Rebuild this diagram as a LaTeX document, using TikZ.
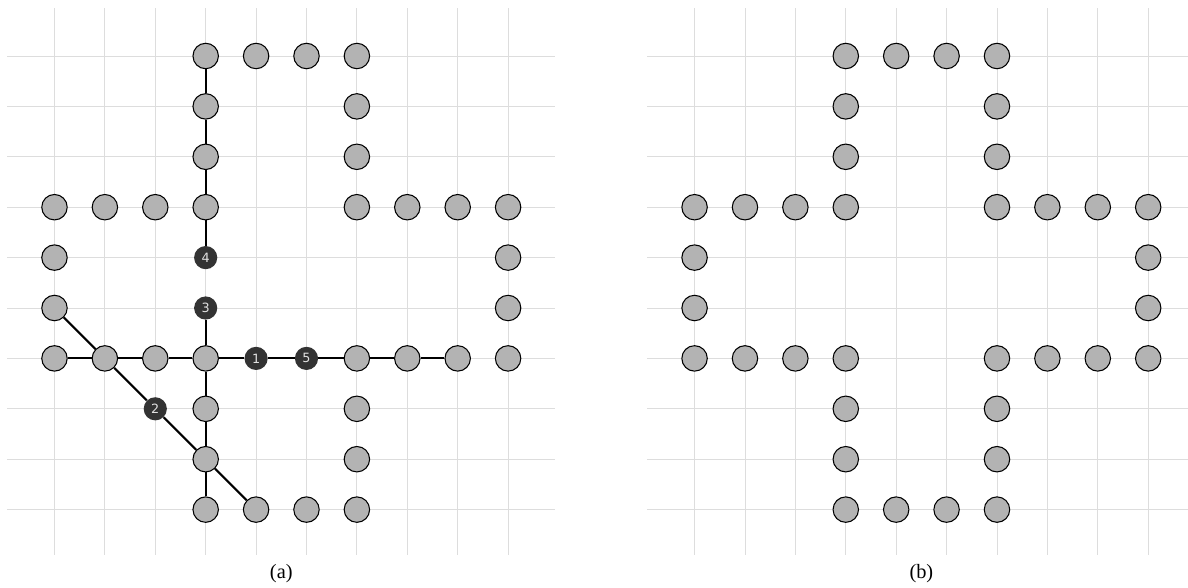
\documentclass[tikz,border=0pt]{standalone}
\usepackage{fontspec}
\setmainfont{Liberation Serif}
\setsansfont{DejaVu Sans}
\definecolor{gridgray}{HTML}{DDDDDD}
\definecolor{cellgray}{HTML}{B3B3B3}
\definecolor{seeddark}{HTML}{333333}

\begin{document}
\begin{tikzpicture}[
    gridline/.style={draw=gridgray, line width=0.5pt},
    cell/.style={circle, draw=black, fill=cellgray, line width=0.6pt,
                 minimum size=0.505cm, inner sep=0pt},
    seed/.style={circle, fill=seeddark, text=white!88!black, minimum size=0.46cm,
                 inner sep=0pt, font=\fontsize{7.2}{8}\selectfont\sffamily},
    link/.style={draw=black, line width=1.2pt},
    caption/.style={font=\fontsize{11.5}{13}\selectfont},
]
    \useasboundingbox (-1.081,1.111) rectangle (22.49,-10.536);

    % Grids
    \foreach \dx in {0,12.70} {
        \foreach \k in {0,...,9} {
            \draw[gridline] (\dx+\k,0.95) -- (\dx+\k,-9.9);
            \draw[gridline] (\dx-0.94,-\k) -- (\dx+9.93,-\k);
        }
    }

    % Ring of cells, (a) and (b)
    \foreach \i/\j in {3/0,4/0,5/0,6/0,3/1,6/1,3/2,6/2,
                       0/3,1/3,2/3,3/3,6/3,7/3,8/3,9/3,
                       0/4,9/4,0/5,9/5,
                       0/6,1/6,2/6,3/6,6/6,7/6,8/6,9/6,
                       3/7,6/7,3/8,6/8,3/9,4/9,5/9,6/9} {
        \node[cell] (a-\i-\j) at (\i,-\j) {};
        \node[cell] (b-\i-\j) at (12.70+\i,-\j) {};
    }

    % Numbered cells
    \node[seed] (s1) at (4,-6) {1};
    \node[seed] (s2) at (2,-7) {2};
    \node[seed] (s3) at (3,-5) {3};
    \node[seed] (s4) at (3,-4) {4};
    \node[seed] (s5) at (5,-6) {5};

    % Links
    \foreach \u/\v in {a-3-0/a-3-1, a-3-1/a-3-2, a-3-2/a-3-3, a-3-3/s4,
                       s3/a-3-6,
                       a-0-6/a-1-6, a-1-6/a-2-6, a-2-6/a-3-6, a-3-6/s1,
                       s1/s5, s5/a-6-6, a-6-6/a-7-6, a-7-6/a-8-6,
                       a-3-6/a-3-7, a-3-7/a-3-8, a-3-8/a-3-9,
                       a-0-5/a-1-6, a-1-6/s2, s2/a-3-8, a-3-8/a-4-9}
        \draw[link] (\u) -- (\v);

    % Captions
    \node[caption] (capa) at (4.5,-10.26) {(a)};
    \node[caption] (capb) at (17.2,-10.26) {(b)};
\end{tikzpicture}
\end{document}
